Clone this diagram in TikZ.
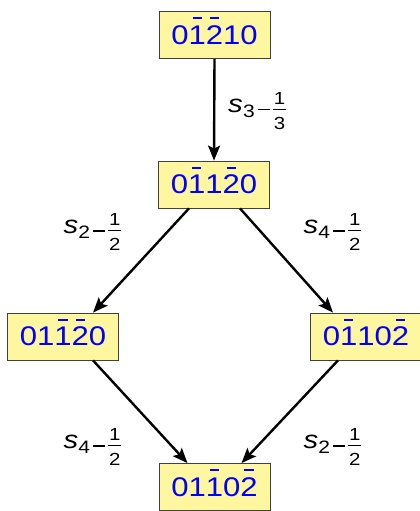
\documentclass[tikz,border=0pt]{standalone}
\usepackage{fontspec}
\usepackage{graphicx}
\setmainfont{Liberation Sans}
\usetikzlibrary{arrows.meta}
% digit with a short bar above it
\newcommand\nb[1]{\ooalign{#1\cr\hidewidth\rule[0.93em]{0.3em}{0.08em}\hidewidth\cr}}
% stacked fraction of small digits, bar on the math axis
\newcommand\fr[2]{%
  \makebox[0pt][l]{\raisebox{8.3pt}{\makebox[11pt]{\fontsize{17.5}{18}\selectfont #1}}}%
  \makebox[0pt][l]{\raisebox{-16.7pt}{\makebox[11pt]{\fontsize{17.5}{18}\selectfont #2}}}%
  \raisebox{2.2pt}{\rule{11pt}{1.2pt}}}
% edge label: italic s with a subscript, a minus and a fraction
\newcommand\lab[3]{\scalebox{1.17}[1]{\fontsize{25}{28}\selectfont
  \textit{s}\kern0.3pt\raisebox{-5.3pt}{\fontsize{18}{20}\selectfont #1}%
  \kern2.5pt\raisebox{1.9pt}{\rule{10.5pt}{1.3pt}}\kern2.5pt\fr{#2}{#3}}}
\newcommand\cell[1]{\scalebox{1.15}[1]{#1}}
\begin{document}
\begin{tikzpicture}[x=1pt,y=-1pt,
  state/.style={draw=black!75, line width=0.8pt, fill={rgb,255:red,255;green,246;blue,160},
    text=blue, minimum width=111pt, minimum height=47pt, inner sep=0pt,
    font=\fontsize{27}{30}\selectfont},
  move/.style={line width=2.4pt, -{Stealth[length=15pt,width=12pt,inset=3pt]}},
  tag/.style={anchor=base west, inner sep=0pt}]
\useasboundingbox (0,0) rectangle (420,511);
\node[state] (t) at (214.5,35) {\cell{0\nb{1}\nb{2}10}};
\node[state] (m) at (214,184.5) {\cell{0\nb{1}1\nb{2}0}};
\node[state] (l) at (63,336.5) {\cell{01\nb{1}\nb{2}0}};
\node[state] (r) at (366,336.5) {\cell{0\nb{1}10\nb{2}}};
\node[state] (b) at (214.5,487) {\cell{01\nb{1}0\nb{2}}};

\draw[move] (t.south) -- (m.north);
\draw[move] ([xshift=-25pt]m.south) -- ([xshift=30pt]l.north);
\draw[move] ([xshift=26pt]m.south) -- ([xshift=-33pt]r.north);
\draw[move] ([xshift=30pt]l.south) -- ([xshift=-27pt]b.north);
\draw[move] ([xshift=-28pt]r.south) -- ([xshift=27pt]b.north);

\node[tag] (e1) at (228,112.3) {\lab{3}{1}{3}};
\node[tag] (e2) at (63.3,233.5) {\lab{2}{1}{2}};
\node[tag] (e3) at (303.3,233.5) {\lab{4}{1}{2}};
\node[tag] (e4) at (63.3,448.5) {\lab{4}{1}{2}};
\node[tag] (e5) at (303.3,448.5) {\lab{2}{1}{2}};
\end{tikzpicture}
\end{document}
